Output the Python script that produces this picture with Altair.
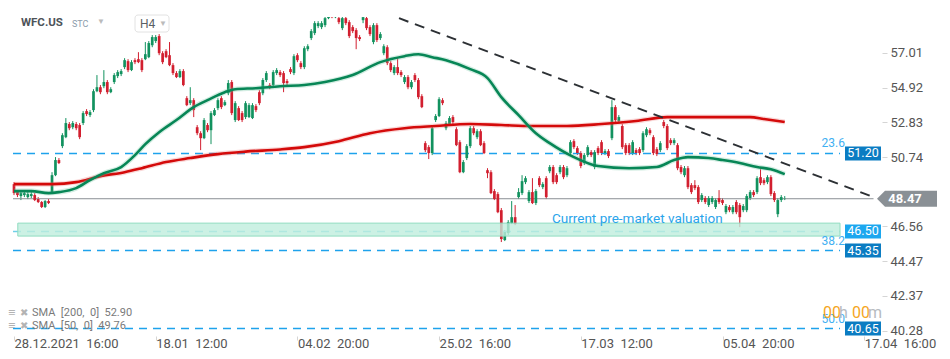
import altair as alt
import pandas as pd

# ---------------- data ----------------
OPEN = [49.35, 48.87, 48.63, 48.69, 48.57, 48.63, 48.69, 48.45, 48.27, 47.97,
        48.33, 48.87, 49.89, 50.80, 51.64, 52.18, 52.97, 52.78, 52.97, 52.91,
        53.03, 53.75, 53.51, 53.81, 54.95, 55.19, 55.25, 55.50, 54.89, 55.50,
        55.86, 55.98, 56.40, 56.76, 56.22, 56.82, 56.88, 56.82, 56.88, 57.00,
        57.72, 57.97, 58.27, 57.24, 57.36, 57.12, 56.52, 56.04, 55.80, 56.16,
        54.53, 54.23, 54.41, 52.78, 52.42, 52.12, 52.91, 52.60, 53.51, 53.93,
        54.53, 54.11, 54.83, 55.50, 53.21, 53.93, 53.63, 53.39, 53.39, 53.33,
        54.05, 54.89, 54.83, 55.62, 55.32, 55.32, 56.04, 56.10, 56.04, 55.56,
        56.28, 56.04, 57.12, 56.64, 56.40, 57.48, 58.15, 58.45, 58.87, 58.81,
        58.93, 59.35, 59.83, 59.41, 59.35, 58.75, 59.35, 59.11, 58.81, 58.63,
        58.21, 59.23, 59.35, 58.81, 57.91, 58.93, 58.15, 57.24, 57.60, 56.64,
        56.04, 56.40, 56.10, 55.50, 55.80, 55.19, 55.92, 55.62, 54.65, 51.82,
        51.58, 51.22, 53.21, 53.45, 54.41, 52.72, 52.97, 53.39, 52.66, 51.88,
        50.07, 50.92, 51.64, 52.72, 52.18, 52.54, 51.82, 50.19, 50.07, 48.93,
        48.75, 47.78, 45.98, 46.40, 47.00, 47.36, 48.57, 48.81, 49.47, 48.33,
        48.87, 48.21, 49.71, 49.17, 49.71, 50.13, 50.38, 49.89, 50.07, 50.38,
        49.89, 51.22, 51.94, 51.52, 51.22, 50.62, 51.10, 51.28, 50.38, 51.52,
        51.88, 51.22, 51.34, 52.12, 53.99, 53.15, 52.85, 51.70, 51.70, 51.22,
        51.40, 51.46, 51.40, 52.30, 52.60, 52.18, 51.46, 51.40, 53.09, 52.85,
        52.00, 51.82, 51.70, 50.38, 49.89, 50.31, 49.29, 49.29, 49.17, 48.39,
        48.51, 48.09, 48.27, 47.97, 48.51, 48.39, 47.66, 47.97, 47.66, 48.27,
        48.09, 47.78, 47.78, 48.51, 48.87, 48.87, 49.77, 49.59, 49.47, 49.77,
        48.81, 47.54, 48.39, 48.45]
HIGH = [49.47, 48.99, 48.93, 48.93, 48.87, 48.87, 48.81, 48.57, 48.33, 48.39,
        48.45, 50.07, 50.98, 50.92, 52.42, 53.33, 53.09, 53.15, 53.09, 53.03,
        53.75, 53.87, 53.81, 55.07, 55.92, 55.32, 56.22, 55.62, 55.19, 56.04,
        56.22, 56.28, 56.94, 56.88, 56.82, 56.94, 57.30, 56.94, 57.91, 57.97,
        58.33, 58.33, 58.39, 57.36, 57.48, 57.91, 56.64, 56.16, 56.28, 56.28,
        54.65, 55.19, 54.53, 52.91, 52.54, 53.33, 53.03, 53.75, 53.93, 54.53,
        54.65, 54.41, 55.62, 55.62, 54.35, 54.05, 53.75, 54.35, 54.23, 54.23,
        54.17, 55.01, 55.74, 56.16, 55.44, 56.22, 56.34, 56.22, 56.16, 55.68,
        56.40, 57.18, 57.24, 56.76, 57.66, 57.78, 58.69, 59.17, 59.17, 59.17,
        59.47, 59.95, 59.95, 59.89, 59.53, 59.53, 59.53, 59.23, 58.93, 58.75,
        58.33, 59.53, 59.47, 58.93, 59.05, 59.05, 58.51, 57.78, 57.72, 56.76,
        56.52, 56.94, 56.22, 55.92, 55.92, 55.62, 56.04, 55.74, 54.77, 51.94,
        51.70, 52.85, 53.57, 54.59, 54.53, 53.15, 53.45, 53.51, 52.78, 52.00,
        50.80, 51.76, 52.85, 52.85, 52.66, 52.66, 51.94, 50.31, 50.19, 49.05,
        48.87, 47.91, 46.58, 47.18, 48.33, 48.09, 49.11, 49.89, 49.83, 48.99,
        49.71, 49.05, 49.83, 49.47, 49.83, 50.50, 50.50, 50.01, 50.50, 50.50,
        50.44, 52.00, 52.06, 51.64, 51.34, 51.22, 51.70, 51.40, 51.40, 51.64,
        52.00, 51.46, 51.46, 54.41, 54.11, 53.51, 52.97, 51.82, 51.82, 52.00,
        51.52, 51.58, 52.54, 52.78, 52.72, 52.30, 51.58, 51.94, 53.21, 52.97,
        52.12, 52.12, 51.82, 50.50, 50.44, 50.44, 49.41, 49.59, 49.29, 48.81,
        48.63, 48.63, 48.63, 48.51, 48.99, 48.51, 48.15, 48.09, 48.09, 48.39,
        48.21, 48.15, 48.75, 48.99, 48.99, 49.83, 50.25, 49.71, 49.89, 49.89,
        48.93, 48.51, 48.69, 48.63]
LOW = [48.69, 48.57, 48.39, 48.57, 48.45, 48.51, 48.33, 48.21, 47.91, 47.91,
       48.15, 48.81, 49.83, 50.56, 51.52, 52.12, 52.60, 52.66, 52.60, 52.06,
       52.91, 53.45, 53.39, 53.69, 54.89, 54.77, 55.13, 54.77, 54.83, 55.38,
       55.74, 55.86, 56.28, 56.10, 56.16, 56.58, 56.64, 56.10, 56.82, 56.94,
       57.60, 57.85, 57.12, 56.58, 56.94, 56.46, 55.92, 55.74, 55.74, 55.25,
       54.05, 54.11, 53.39, 52.30, 51.40, 52.06, 52.48, 51.76, 53.45, 53.81,
       53.87, 54.05, 54.71, 53.51, 53.09, 53.15, 53.09, 53.27, 53.33, 53.27,
       53.69, 54.11, 54.71, 55.50, 55.07, 55.19, 55.92, 55.80, 54.89, 55.32,
       55.98, 55.92, 56.70, 56.28, 56.28, 57.36, 58.03, 58.33, 58.75, 58.69,
       58.81, 59.29, 59.35, 59.35, 58.99, 58.63, 58.93, 58.15, 58.45, 57.48,
       57.97, 59.05, 58.63, 58.27, 57.78, 57.91, 58.03, 57.12, 56.52, 56.10,
       55.92, 55.92, 55.80, 55.38, 55.07, 55.07, 55.50, 54.47, 53.93, 51.28,
       50.86, 51.10, 53.09, 53.39, 54.11, 52.60, 52.91, 52.97, 51.64, 50.01,
       50.01, 50.80, 51.52, 52.30, 52.06, 51.64, 51.16, 49.71, 48.75, 48.39,
       47.60, 45.86, 45.92, 46.28, 46.94, 46.88, 48.45, 48.69, 49.35, 48.21,
       48.15, 48.09, 49.17, 49.05, 48.45, 50.01, 49.35, 49.35, 49.95, 49.65,
       49.77, 51.10, 51.46, 51.10, 50.31, 50.50, 50.98, 50.98, 50.25, 51.10,
       51.10, 51.10, 50.92, 52.00, 53.09, 53.03, 51.46, 51.10, 51.10, 51.10,
       51.10, 51.10, 51.28, 52.18, 52.30, 51.10, 51.04, 51.28, 52.72, 51.40,
       51.70, 51.70, 50.19, 49.95, 49.77, 49.05, 48.75, 48.99, 48.15, 48.27,
       48.15, 47.97, 48.15, 47.85, 48.15, 48.09, 47.54, 47.66, 47.54, 47.54,
       46.76, 47.66, 47.66, 48.39, 48.57, 48.75, 49.29, 49.29, 49.35, 48.63,
       48.27, 47.36, 48.27, 48.39]
CLOSE = [48.81, 48.69, 48.81, 48.81, 48.75, 48.75, 48.39, 48.27, 47.97, 48.33,
         48.21, 49.89, 50.80, 50.62, 52.30, 53.03, 52.72, 53.03, 52.72, 52.18,
         53.63, 53.57, 53.69, 54.95, 55.19, 54.89, 55.50, 54.89, 55.07, 55.92,
         56.10, 56.16, 56.82, 56.22, 56.70, 56.70, 56.70, 56.22, 57.18, 57.85,
         58.21, 58.21, 57.24, 56.70, 57.00, 56.52, 56.04, 55.80, 56.16, 55.32,
         54.11, 54.41, 53.81, 52.42, 52.12, 53.21, 52.60, 53.63, 53.81, 54.41,
         53.99, 54.29, 55.44, 53.63, 54.23, 53.21, 53.21, 54.23, 54.11, 54.11,
         53.81, 54.23, 55.62, 56.04, 55.19, 56.10, 56.22, 55.92, 55.44, 55.44,
         56.10, 57.06, 56.82, 56.40, 57.54, 57.66, 58.57, 59.05, 59.05, 59.05,
         59.35, 59.71, 59.41, 59.77, 59.11, 59.35, 59.05, 58.27, 58.57, 58.15,
         58.09, 59.41, 58.75, 58.39, 58.93, 58.03, 58.39, 57.66, 56.64, 56.22,
         56.40, 56.04, 55.92, 55.80, 55.19, 55.50, 55.62, 54.59, 53.99, 51.40,
         51.22, 52.72, 53.45, 54.47, 54.23, 53.03, 53.33, 53.09, 51.70, 50.07,
         50.68, 51.64, 52.72, 52.42, 52.54, 51.70, 51.22, 50.01, 48.81, 48.45,
         47.66, 46.04, 46.46, 47.06, 47.36, 46.94, 48.87, 49.53, 49.71, 48.87,
         48.21, 48.93, 49.29, 49.35, 48.57, 50.38, 49.47, 49.47, 50.38, 49.77,
         50.31, 51.88, 51.58, 51.22, 50.44, 51.10, 51.58, 51.10, 51.28, 51.22,
         51.22, 51.34, 51.04, 53.99, 53.21, 53.39, 51.58, 51.22, 51.22, 51.88,
         51.22, 51.22, 52.42, 52.66, 52.42, 51.22, 51.16, 51.82, 52.85, 51.52,
         51.82, 52.00, 50.31, 50.07, 50.31, 49.17, 48.87, 49.11, 48.27, 48.69,
         48.27, 48.51, 48.51, 48.39, 48.27, 48.21, 48.03, 47.78, 47.97, 47.66,
         47.36, 48.03, 48.63, 48.87, 48.69, 49.71, 49.41, 49.41, 49.77, 48.75,
         48.39, 48.39, 48.57, 48.47]

SMA200_IDX = [0, 11, 18, 25, 32, 37, 44, 51, 59, 67, 77, 84, 94, 103, 113, 122,
              132, 141, 150, 160, 170, 180, 189, 200, 213, 217, 223]
SMA200_VAL = [49.35, 49.35, 49.47, 49.83, 50.07, 50.31, 50.68, 50.92, 51.16, 51.31,
              51.44, 51.58, 51.94, 52.42, 52.72, 52.85, 52.97, 52.91, 52.85, 52.85,
              52.97, 53.15, 53.39, 53.39, 53.39, 53.27, 53.09]

SMA50_IDX = [0, 5, 10, 13, 18, 22, 26, 31, 35, 38, 42, 47, 52, 56, 61, 64, 70, 77,
             84, 90, 98, 106, 113, 117, 121, 125, 132, 137, 141, 146, 151, 155, 162,
             169, 178, 186, 191, 195, 201, 205, 210, 215, 219, 223]
SMA50_VAL = [48.93, 48.93, 48.81, 48.87, 49.11, 49.59, 50.01, 50.38, 51.10, 51.76,
             52.48, 53.21, 53.99, 54.41, 54.89, 55.07, 55.13, 55.25, 55.32, 55.50,
             55.92, 56.70, 57.06, 57.18, 57.00, 56.82, 56.28, 55.74, 54.59, 53.51,
             52.42, 51.82, 50.98, 50.44, 50.31, 50.38, 50.80, 50.98, 50.92, 50.80,
             50.62, 50.38, 50.25, 49.95]

TREND_IDX = [111.4, 248.7]
TREND_VAL = [59.35, 48.57]

LEVELS = [51.20, 46.50, 45.35, 40.65]
LEVEL_LABELS = ["51.20", "46.50", "45.35", "40.65"]
LEVEL_TAG_COLORS = ["#0b7cc2", "#1ca7ef", "#0b7cc2", "#0b7cc2"]
FIB_LABELS = ["23.6", "", "38.2", "50.0"]
LAST_PRICE = 48.47
BAND_LOW, BAND_HIGH = 46.22, 47.00
BAND_START, LEVEL_END = 1.1, 239.0

Y_TICKS = [40.28, 42.37, 44.47, 46.56, 50.74, 52.83, 54.92, 57.01]
X_TICK_IDX = [0, 41, 82, 123, 164, 205, 246]
X_TICK_LABELS = ["28.12.2021\u00a0\u00a016:00", "18.01\u00a0\u00a012:00", "04.02\u00a0\u00a020:00",
                 "25.02\u00a0\u00a016:00", "17.03\u00a0\u00a012:00", "05.04\u00a0\u00a020:00",
                 "17.04\u00a0\u00a016:00"]
SMA_LEGEND = ["SMA\u00a0\u00a0[200,\u00a0\u00a00]\u00a0\u00a052.90",
              "SMA\u00a0\u00a0[50,\u00a0\u00a00]\u00a0\u00a049.76"]

# ---------------- styling ----------------
GREEN = "#12925f"
RED = "#d21f2f"
FONT = "Roboto"
X_MIN, X_MAX = -0.29, 249.7
W, H = 874, 319

xs = alt.Scale(domain=[X_MIN, X_MAX], nice=False, zero=False)
ys = alt.Scale(domain=[40.2, 59.42], nice=False, zero=False)

label_expr = "[" + ",".join("'" + s + "'" for s in X_TICK_LABELS) + "][round(datum.value / 41)]"
x_axis = alt.Axis(values=X_TICK_IDX, labelExpr=label_expr, labelAlign="left", labelFontSize=13,
                  labelColor="#555555", tickColor="#d5d5d5", tickSize=4, domain=False, grid=False,
                  title=None, labelPadding=-3, labelFlush=False, labelOverlap=False, labelFont=FONT,
                  labelBaseline="top")
y_axis = alt.Axis(orient="right", values=Y_TICKS, format=".2f", labelFontSize=13, labelColor="#555555",
                  tickColor="#d5d5d5", tickSize=5, domain=False, grid=False, title=None,
                  tickOffset=-4, labelPadding=3, labelFont=FONT, labelOverlap=False, labelFlush=False)


def X(field):
    return alt.X(field, scale=xs, axis=x_axis)


def Y(field):
    return alt.Y(field, scale=ys, axis=y_axis)


candles = pd.DataFrame({"i": list(range(len(CLOSE))), "o": OPEN, "h": HIGH, "l": LOW, "c": CLOSE})
candles["dir"] = ["up" if c >= o else "down" for o, c in zip(OPEN, CLOSE)]
col = alt.Color("dir:N", scale=alt.Scale(domain=["up", "down"], range=[GREEN, RED]), legend=None)

wicks = alt.Chart(candles).mark_rule(strokeWidth=1, clip=True).encode(
    x=X("i:Q"), y=Y("l:Q"), y2="h:Q", color=col)
bodies = alt.Chart(candles).mark_bar(size=2.7, clip=True).encode(
    x=X("i:Q"), y=Y("o:Q"), y2="c:Q", color=col)

lv = pd.DataFrame({"lvl": LEVELS, "lab": LEVEL_LABELS, "tagc": LEVEL_TAG_COLORS, "fib": FIB_LABELS,
                   "x0": [X_MIN] * 4, "x1": [LEVEL_END] * 4,
                   "lc": ["#1ea2ec", "#6fcfe8", "#1ea2ec", "#1ea2ec"]})
level_lines = alt.Chart(lv).mark_rule(strokeWidth=1.4, strokeDash=[8, 6], clip=True).encode(
    x=X("x0:Q"), x2="x1:Q", y=Y("lvl:Q"), color=alt.Color("lc:N", scale=None))

pl = pd.DataFrame({"p": [LAST_PRICE], "x0": [X_MIN], "x1": [TREND_IDX[1]]})
price_line = alt.Chart(pl).mark_rule(strokeWidth=1, color="#8a8f94").encode(
    x=X("x0:Q"), x2="x1:Q", y=Y("p:Q"))

s200 = pd.DataFrame({"i": SMA200_IDX, "v": SMA200_VAL})
s50 = pd.DataFrame({"i": SMA50_IDX, "v": SMA50_VAL})


def sma(df, color, halo):
    a = alt.Chart(df).mark_line(color=halo, strokeWidth=5, opacity=0.3, clip=True,
                                interpolate="monotone").encode(x=X("i:Q"), y=Y("v:Q"))
    b = alt.Chart(df).mark_line(color=color, strokeWidth=2.6, clip=True,
                                interpolate="monotone").encode(x=X("i:Q"), y=Y("v:Q"))
    return [a, b]


band_df = pd.DataFrame({"x0": [BAND_START], "x1": [LEVEL_END], "y0": [BAND_LOW], "y1": [BAND_HIGH]})
band = alt.Chart(band_df).mark_rect(fill="#bfeedd", fillOpacity=0.8, stroke="#8fdcc0", strokeWidth=1).encode(
    x=X("x0:Q"), x2="x1:Q", y=Y("y0:Q"), y2="y1:Q")

tr = pd.DataFrame({"i": TREND_IDX, "v": TREND_VAL})
trend = alt.Chart(tr).mark_line(color="#2c3034", strokeWidth=2, strokeDash=[10, 7]).encode(
    x=X("i:Q"), y=Y("v:Q"))

fib_text = alt.Chart(lv).mark_text(align="right", dy=-10, fontSize=12, color="#3fb0f2", font=FONT).encode(
    x=alt.value(837), y=Y("lvl:Q"), text="fib:N")

TAG_PATH = "M-1,-0.39L1,-0.39L1,0.39L-1,0.39Z"
tags = alt.Chart(lv).mark_point(shape=TAG_PATH, filled=True, size=1296, opacity=1, strokeWidth=0).encode(
    x=alt.value(855), y=Y("lvl:Q"), color=alt.Color("tagc:N", scale=None))
tag_text = alt.Chart(lv).mark_text(fontSize=12.5, color="white", font=FONT).encode(
    x=alt.value(855), y=Y("lvl:Q"), text="lab:N")

ARROW_PATH = "M-1,0L-0.733,-0.267L1,-0.267L1,0.267L-0.733,0.267Z"
last_df = pd.DataFrame({"p": [LAST_PRICE], "t": ["48.47"]})
last_tag = alt.Chart(last_df).mark_point(shape=ARROW_PATH, filled=True, size=3600, opacity=1,
                                         strokeWidth=0, color="#8a9095").encode(
    x=alt.value(899), y=Y("p:Q"))
last_text = alt.Chart(last_df).mark_text(fontSize=13, fontWeight="bold", color="white", font=FONT).encode(
    x=alt.value(897), y=Y("p:Q"), text="t:N")

cur_df = pd.DataFrame({"p": [LEVELS[1]], "t": ["Current pre-market valuation"]})
cur_text = alt.Chart(cur_df).mark_text(align="left", dy=-12.5, fontSize=13.5, color="#2aa4ea", font=FONT).encode(
    x=alt.value(544), y=Y("p:Q"), text="t:N")


def txt(t, x, y, **kw):
    kw.setdefault("font", FONT)
    return alt.Chart(pd.DataFrame({"t": [t]})).mark_text(baseline="middle", **kw).encode(
        x=alt.value(x), y=alt.value(y), text="t:N")


h4_box = alt.Chart(pd.DataFrame({"a": [0]})).mark_rect(fill="white", stroke="#e2e2e2", strokeWidth=1,
                                                         cornerRadius=3).encode(
    x=alt.value(127), x2=alt.value(161), y=alt.value(-2), y2=alt.value(15))

annotations = [
    txt("WFC.US", 13, 6, align="left", fontSize=11.5, fontWeight="bold", color="#4d5359"),
    txt("STC", 64, 7, align="left", fontSize=9, color="#8c9cab"),
    txt("\u25bc", 89, 5, align="left", fontSize=8, color="#bbbbbb"),
    h4_box,
    txt("H4", 132, 6.5, align="left", fontSize=12, color="#5a5f64"),
    txt("\u25bc", 151, 7, align="left", fontSize=8, color="#bbbbbb"),
    txt("\u2261", 0, 296, align="left", fontSize=13, color="#b3b3b3", fontWeight="bold"),
    txt("\u2716", 12, 296, align="left", fontSize=10, color="#b3b3b3"),
    txt(SMA_LEGEND[0], 24, 296, align="left", fontSize=11, color="#7a7a7a"),
    txt("\u2261", 0, 309, align="left", fontSize=13, color="#b3b3b3", fontWeight="bold"),
    txt("\u2716", 12, 309, align="left", fontSize=10, color="#b3b3b3"),
    txt(SMA_LEGEND[1], 24, 309, align="left", fontSize=11, color="#7a7a7a"),
    txt("00", 815, 296, align="left", fontSize=16, color="#f5a623"),
    txt("h", 831, 296, align="left", fontSize=16, color="#b7bbbf"),
    txt("00", 844, 296, align="left", fontSize=16, color="#f5a623"),
    txt("m", 860, 296, align="left", fontSize=16, color="#b7bbbf"),
]

chart = alt.layer(
    wicks, level_lines, price_line, bodies,
    *sma(s200, "#d40a0a", "#ea7d7d"), *sma(s50, "#078656", "#6cc29f"),
    band, trend, fib_text, cur_text, tags, tag_text, last_tag, last_text,
    *annotations
).properties(
    width=W, height=H,
    autosize=alt.AutoSizeParams(type="none"),
    padding={"left": 0, "top": 9, "right": 60, "bottom": 20},
).configure(font=FONT, background="white").configure_view(strokeWidth=0)

chart.save("out.html", embed_options={"renderer": "svg", "actions": False})
